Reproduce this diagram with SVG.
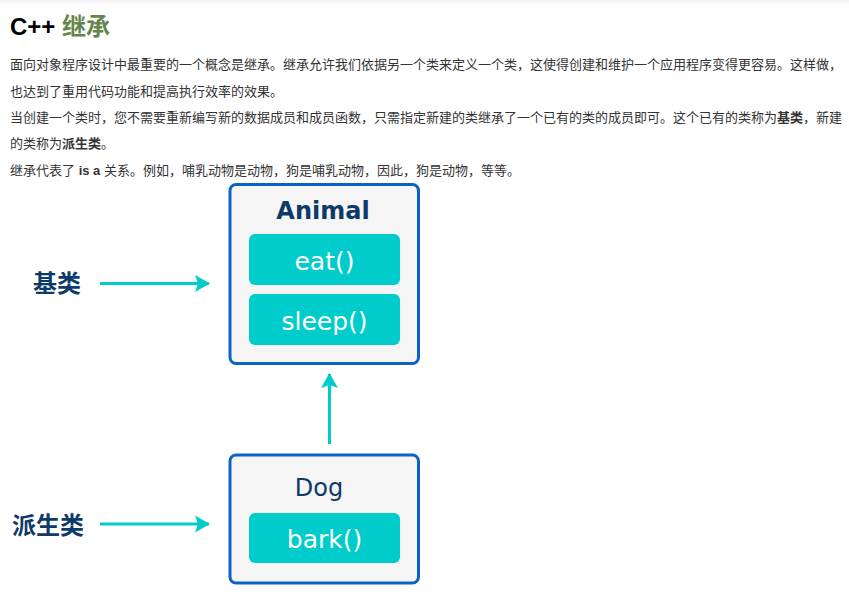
<svg xmlns="http://www.w3.org/2000/svg" width="849" height="596" viewBox="0 0 849 596">
  <style>
    .title { font-family: "Liberation Sans", "Noto Sans CJK SC", sans-serif; font-size: 24px; font-weight: bold; }
    .para { font-family: "Liberation Sans", "Noto Sans CJK SC", sans-serif; font-size: 13px; fill: #333333; }
    .para .b { font-weight: bold; }
    .box { fill: #f5f5f5; stroke: #0a64c8; stroke-width: 3; }
    .method { fill: #00cccc; }
    .mtext { font-family: "DejaVu Sans", Verdana, sans-serif; font-size: 25px; fill: #ffffff; text-anchor: middle; }
    .cname { font-family: "DejaVu Sans", Verdana, sans-serif; font-size: 24px; fill: #0d3a68; text-anchor: middle; }
    .label { font-family: "Noto Sans CJK SC", sans-serif; font-size: 24px; font-weight: bold; fill: #0d3a68; }
    .conn { stroke: #00cccc; stroke-width: 3; fill: none; }
  </style>
  <defs>
    <linearGradient id="topShade" x1="0" y1="0" x2="0" y2="1">
      <stop offset="0" stop-color="#f0f0f0"/>
      <stop offset="1" stop-color="#ffffff"/>
    </linearGradient>
    <marker id="head" markerUnits="userSpaceOnUse" markerWidth="16" markerHeight="18" refX="14" refY="8.5" orient="auto">
      <path d="M0,0 L15,8.5 L0,17 L3,8.5 Z" fill="#00cccc"/>
    </marker>
  </defs>

  <rect x="0" y="0" width="849" height="596" fill="#ffffff"/>
  <rect x="0" y="0" width="849" height="5" fill="url(#topShade)"/>

  <!-- heading and intro text -->
  <text class="title" x="10" y="35"><tspan fill="#000000">C++ </tspan><tspan fill="#64854c">继承</tspan></text>
  <text class="para" x="10" y="69">面向对象程序设计中最重要的一个概念是继承。继承允许我们依据另一个类来定义一个类，这使得创建和维护一个应用程序变得更容易。这样做，</text>
  <text class="para" x="10" y="96">也达到了重用代码功能和提高执行效率的效果。</text>
  <text class="para" x="10" y="122">当创建一个类时，您不需要重新编写新的数据成员和成员函数，只需指定新建的类继承了一个已有的类的成员即可。这个已有的类称为<tspan class="b">基类</tspan>，新建</text>
  <text class="para" x="10" y="148">的类称为<tspan class="b">派生类</tspan>。</text>
  <text class="para" x="10" y="175">继承代表了 <tspan class="b">is a</tspan> 关系。例如，哺乳动物是动物，狗是哺乳动物，因此，狗是动物，等等。</text>

  <!-- base class -->
  <g id="animal">
    <rect class="box" x="230" y="184.5" width="188.5" height="179" rx="6"/>
    <text class="cname" x="323" y="219" font-weight="bold">Animal</text>
    <rect class="method" x="249" y="234" width="151" height="51" rx="6"/>
    <text class="mtext" x="324.5" y="270">eat()</text>
    <rect class="method" x="249" y="294" width="151" height="51" rx="6"/>
    <text class="mtext" x="324.5" y="330">sleep()</text>
  </g>

  <!-- derived class -->
  <g id="dog">
    <rect class="box" x="230" y="455" width="188.5" height="128" rx="6"/>
    <text class="cname" x="319" y="496">Dog</text>
    <rect class="method" x="249" y="513" width="151" height="50" rx="6"/>
    <text class="mtext" x="324.5" y="548">bark()</text>
  </g>

  <g id="label-base">
    <text class="label" x="33" y="292">基类</text>
  </g>
  <g id="label-derived">
    <text class="label" x="12" y="534">派生类</text>
  </g>

  <g id="connectors">
    <line class="conn" x1="100" y1="283.5" x2="209" y2="283.5" marker-end="url(#head)"/>
    <line class="conn" x1="100" y1="524" x2="209" y2="524" marker-end="url(#head)"/>
    <line class="conn" x1="329.5" y1="444" x2="329.5" y2="374" marker-end="url(#head)"/>
  </g>
</svg>
